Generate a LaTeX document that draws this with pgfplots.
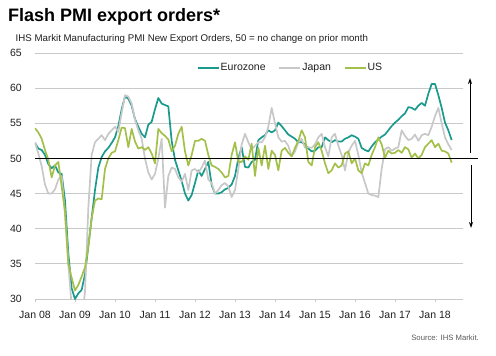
\documentclass[border=0pt]{standalone}
\usepackage{pgfplots}
\pgfplotsset{compat=1.18}
\usepackage{pgfplotstable}
\usepackage{fontspec}
\setmainfont{Liberation Sans}
\usetikzlibrary{arrows.meta}
\definecolor{euro}{HTML}{1A9A8C}
\definecolor{japan}{HTML}{C8C8C8}
\definecolor{usg}{HTML}{A3C04A}
\definecolor{gridc}{HTML}{C9C9C9}
\definecolor{txt}{HTML}{1F1F1F}
\pgfplotstableread{
m eu jp us
0 52.2 52.3 54.3
1 51.4 50.7 53.7
2 51.2 48.9 52.8
3 50.5 46.3 51.2
4 49.2 45.0 49.8
5 48.6 45.0 47.3
6 49.0 45.6 49.0
7 48.0 47.0 49.5
8 47.8 47.5 46.0
9 44.0 42.0 42.5
10 36.5 35.0 35.0
11 31.5 29.0 33.0
12 30.0 25.0 31.2
13 30.8 24.0 32.0
14 31.3 27.0 33.2
15 33.5 31.0 34.5
16 37.5 43.0 37.5
17 41.5 50.5 41.5
18 45.5 52.3 44.0
19 48.7 52.8 44.3
20 50.2 53.3 44.2
21 51.0 52.6 48.5
22 51.5 53.5 50.0
23 52.2 54.0 50.8
24 53.0 54.5 51.0
25 54.6 53.8 52.6
26 57.0 56.5 54.4
27 58.8 59.0 54.3
28 58.5 58.8 51.6
29 57.5 57.8 54.2
30 55.6 55.5 52.4
31 54.5 54.0 51.4
32 53.5 52.8 51.6
33 53.0 50.0 51.2
34 54.8 48.0 51.6
35 55.2 47.0 50.7
36 57.0 47.8 49.3
37 58.6 50.0 54.2
38 57.8 52.8 53.6
39 57.6 43.0 53.2
40 57.4 47.5 52.7
41 52.5 48.7 51.0
42 49.8 48.5 51.8
43 48.3 47.3 53.5
44 46.8 46.7 54.5
45 45.0 47.8 51.0
46 44.0 45.5 49.0
47 44.8 48.3 50.5
48 46.5 48.5 52.5
49 48.3 48.0 52.5
50 47.5 48.7 52.8
51 48.5 49.7 52.5
52 49.5 47.0 50.5
53 46.2 46.5 49.0
54 45.0 45.0 48.8
55 45.0 45.5 48.5
56 45.2 46.2 48.0
57 45.6 46.5 47.3
58 45.8 46.0 47.5
59 46.3 44.5 50.5
60 47.5 45.5 52.3
61 50.0 48.5 49.5
62 51.6 52.0 49.5
63 48.8 53.5 50.3
64 48.7 52.3 49.8
65 49.5 51.3 52.1
66 49.8 51.8 47.5
67 52.6 52.3 51.5
68 53.0 52.3 49.0
69 53.3 53.0 51.8
70 54.0 54.5 48.5
71 53.7 57.2 51.1
72 54.0 55.0 50.5
73 55.1 53.0 48.3
74 54.6 52.4 51.1
75 54.0 52.5 51.5
76 53.4 51.8 50.8
77 53.1 50.3 50.3
78 52.8 51.0 51.5
79 52.3 52.3 52.5
80 52.3 52.8 54.0
81 52.0 51.5 53.0
82 51.4 51.6 49.5
83 51.0 51.5 49.0
84 51.1 52.0 51.6
85 51.6 53.0 52.3
86 51.6 53.5 51.1
87 53.0 51.6 49.3
88 52.6 50.3 47.9
89 52.3 53.0 48.3
90 52.6 53.5 49.3
91 52.4 51.8 48.7
92 52.4 50.5 49.0
93 52.8 48.3 50.7
94 53.0 50.9 51.0
95 53.3 51.8 49.3
96 53.1 52.5 50.0
97 52.8 50.5 48.3
98 51.5 48.0 47.9
99 51.2 46.5 49.3
100 51.0 45.0 49.0
101 51.7 44.8 50.5
102 52.3 44.7 51.6
103 52.7 44.5 53.0
104 53.1 48.5 52.0
105 53.4 51.3 50.1
106 54.0 51.6 51.1
107 54.6 51.1 50.7
108 55.1 51.4 50.8
109 55.5 51.6 51.2
110 56.0 54.0 50.8
111 56.4 53.2 51.6
112 57.3 52.6 51.3
113 57.2 52.8 50.1
114 56.9 53.4 50.7
115 57.5 52.5 50.0
116 57.9 53.3 50.5
117 57.5 53.5 51.6
118 59.2 53.3 52.1
119 60.6 54.5 52.6
120 60.6 56.0 51.6
121 59.0 57.2 52.1
122 57.2 55.0 51.1
123 55.1 53.0 51.0
124 54.0 52.0 50.7
125 52.6 51.2 49.4
}\datatable
\begin{document}
\begin{tikzpicture}
\useasboundingbox (-35bp,-57bp) rectangle (461bp,299bp);
\begin{axis}[
  at={(0,0)}, anchor=south west,
  scale only axis, width=428bp, height=246bp,
  xmin=0, xmax=128.4, ymin=30, ymax=65,
  xtick={0,12,...,120},
  xticklabels={Jan 08,Jan 09,Jan 10,Jan 11,Jan 12,Jan 13,Jan 14,Jan 15,Jan 16,Jan 17,Jan 18},
  ytick={30,35,...,65},
  axis x line*=bottom, axis y line*=left,
  y axis line style={draw=none},
  x axis line style={gridc, line width=0.8bp},
  ytick style={draw=none},
  xtick style={gridc, line width=0.8bp},
  tick align=outside, major tick length=3bp,
  ymajorgrids, grid style={gridc, line width=0.8bp},
  /pgf/number format/assume math mode=true,
  tick label style={font=\fontsize{10.5bp}{12bp}\selectfont, text=txt},
  yticklabel style={inner sep=0pt, anchor=east, xshift=-10bp},
  xticklabel style={inner sep=0pt, anchor=north, yshift=-9bp},
  legend columns=3,
  legend style={draw=none, fill=none, at={(0.3785,0.939)}, anchor=west,
    inner sep=0pt, outer sep=0pt,
    font=\fontsize{10.5bp}{12bp}\selectfont, text=txt,
    nodes={inner sep=1bp},
    /tikz/every even column/.append style={column sep=12bp}},
  legend image code/.code={\draw[#1] (0bp,0bp) -- (21bp,0bp);},
  every axis plot/.append style={line width=1.7bp, line join=round},
]
\addplot[euro, no markers] table[x=m, y=eu] {\datatable};
\addlegendentry{Eurozone}
\addplot[japan, no markers] table[x=m, y=jp] {\datatable};
\addlegendentry{Japan}
\addplot[usg, no markers] table[x=m, y=us] {\datatable};
\addlegendentry{US}
\coordinate (L50) at (axis cs:0,50);
\end{axis}
\draw[black, line width=1bp] (L50) -- ++(443bp,0);
\draw[black, line width=0.9bp, -{Stealth[length=6bp,width=4bp]}] (435bp,146bp) -- (435bp,221bp);
\draw[black, line width=0.9bp, -{Stealth[length=6bp,width=4bp]}] (436bp,134bp) -- (436bp,71bp);
\node[anchor=base west, inner sep=0pt, font=\fontsize{18bp}{20bp}\selectfont\bfseries, text=black] at (-27bp,277bp) {Flash PMI export orders*};
\node[anchor=base west, inner sep=0pt, font=\fontsize{9.7bp}{11bp}\selectfont, text=txt] at (-19.5bp,257.3bp) {IHS Markit Manufacturing PMI New Export Orders, 50 = no change on prior month};
\node[anchor=base east, inner sep=0pt, font=\fontsize{7.7bp}{9bp}\selectfont, text=black!65] at (444bp,-41bp) {Source: IHS Markit.};
\end{tikzpicture}
\end{document}
